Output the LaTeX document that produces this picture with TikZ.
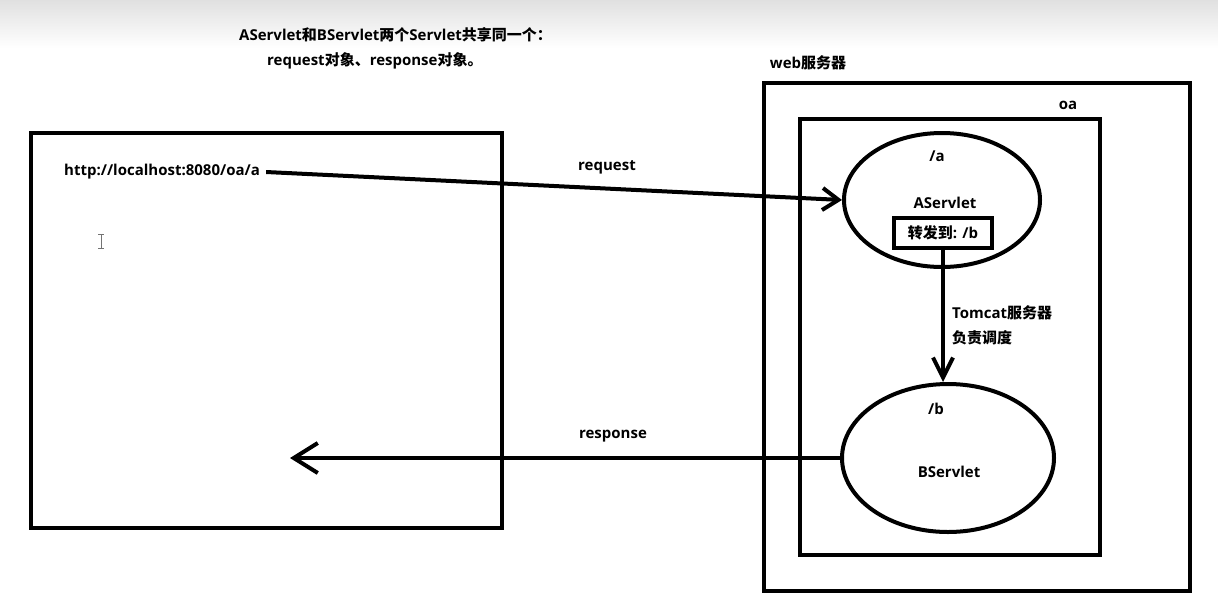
\documentclass[tikz,border=0pt]{standalone}
\usepackage{fontspec}
\setmainfont{Open Sans}
\newfontfamily\cjk{Noto Sans CJK SC}
\usetikzlibrary{shapes.geometric,arrows.meta}
\begin{document}
\begin{tikzpicture}[x=1pt,y=-1pt,
  txt/.style={inner sep=0pt,font=\fontsize{15}{18}\selectfont\bfseries},
  frame/.style={draw,line width=4.5pt,inner sep=0pt},
  ell/.style={draw,ellipse,line width=4pt,inner sep=0pt},
  fwbox/.style={draw,line width=4pt,inner sep=0pt,minimum width=98pt,minimum height=30pt,font=\fontsize{15}{18}\selectfont\bfseries},
  conn/.style={line width=4pt}
]
\useasboundingbox (0,0) rectangle (1218,611);
\shade[top color=black!12,bottom color=white,draw=none] (0,0) rectangle (1218,48);
% title
\node[txt,anchor=west] (t1) at (239,35) {AServlet{\cjk 和}BServlet{\cjk 两个}Servlet{\cjk 共享同一个：}};
\node[txt,anchor=west] (t2) at (267,61) {request{\cjk 对象、}response{\cjk 对象。}};
% frames
\node[frame,minimum width=471pt,minimum height=395pt] (browser) at (266.5,330.5) {};
\node[frame,minimum width=426pt,minimum height=508pt] (web) at (977,337) {};
\node[frame,minimum width=300pt,minimum height=436pt] (oa) at (950,337) {};
\node[txt] (weblbl) at (808,63) {web{\cjk 服务器}};
\node[txt] (oalbl) at (1068,105) {oa};
% browser
\node[txt,anchor=west] (url) at (64,172) {http://localhost:8080/oa/a};
% cursor
\draw[black!55,line width=0.9pt] (101,234) -- (101,248) (98,234) -- (104,234) (98,248) -- (104,248);
% servlets
\node[ell,minimum width=196pt,minimum height=134pt] (A) at (942,200) {};
\node[txt] (apath) at (937,156) {/a};
\node[txt] (aname) at (945,203) {AServlet};
\node[fwbox] (fw) at (943,233) {{\cjk 转发到}: /b};
\node[ell,minimum width=212pt,minimum height=148pt] (B) at (948,458) {};
\node[txt] (bpath) at (936,409) {/b};
\node[txt] (bname) at (949,472) {BServlet};
\node[txt,anchor=west] (tom1) at (952,313) {Tomcat{\cjk 服务器}};
\node[txt,anchor=west] (tom2) at (952,338) {\cjk 负责调度};
% connectors
\coordinate (respend) at (290,458);
\path (url.east) ++(6,0) coordinate (reqstart);
\draw[conn,-{Straight Barb[length=16pt,width=22pt]}] (reqstart) -- (A.west);
\draw[conn,-{Straight Barb[length=20pt,width=20pt]}] (fw.south) -- (fw.south |- B.north);
\draw[conn,-{Straight Barb[length=24pt,width=30pt]}] (B.west) -- (respend);
\node[txt] (reqlbl) at (607,167) {request};
\node[txt] (resplbl) at (613,436) {response};
\end{tikzpicture}
\end{document}
